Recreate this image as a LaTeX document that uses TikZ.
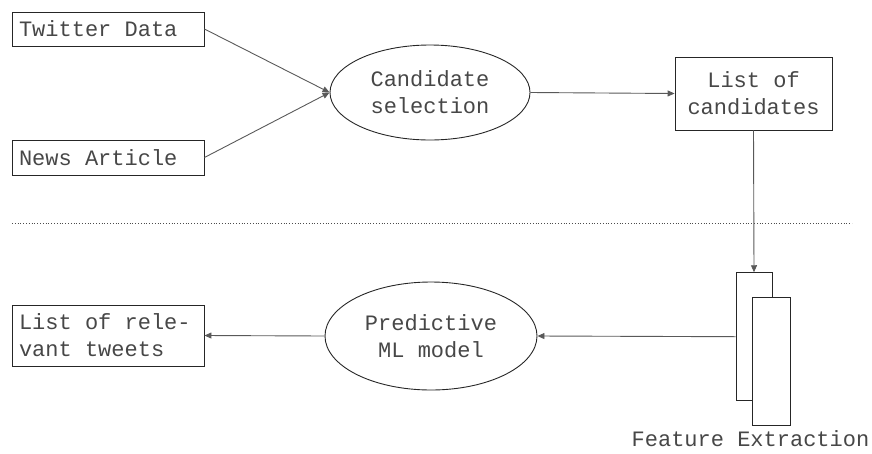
\documentclass[tikz,border=0pt]{standalone}
\usepackage{fontspec}
\setmonofont{Liberation Mono}
\usetikzlibrary{shapes.geometric,arrows.meta}
% keep full monospaced word spaces inside ragged text blocks
\newcommand\monospace{\spaceskip=0.6em\relax\xspaceskip=0.6em\relax}
\tikzset{
  lbl/.style={font=\ttfamily\fontsize{22}{27}\selectfont, text=black!72},
  box/.style={lbl, draw=black!85, line width=0.9pt, rectangle, inner sep=0pt},
  leftbox/.style={box, text width=178pt, align=left},
  oval/.style={lbl, draw=black!85, line width=0.9pt, ellipse, inner sep=0pt, align=center},
  flow/.style={draw=black!65, line width=0.9pt, -{Triangle[length=7pt,width=6pt]}},
}
\begin{document}
\begin{tikzpicture}[x=1pt,y=-1pt]
\useasboundingbox (0,0) rectangle (872,453);
% inputs
\node[leftbox, minimum width=192pt, minimum height=34pt] (tw) at (108,29) {\monospace Twitter Data};
\node[leftbox, minimum width=192pt, minimum height=35pt] (news) at (108,157.5) {\monospace News Article};
% candidate selection
\node[oval, minimum width=200pt, minimum height=95pt] (cs) at (430,92.5) {Candidate\\selection};
\node[box, minimum width=157pt, minimum height=73pt, align=center] (lc) at (753.5,93.5) {List of\\candidates};
% separator
\draw[black!70, line width=0.8pt, dotted] (12,223) coordinate (sepL) -- (852,223) coordinate (sepR);
% feature extraction stack
\node[draw=black!85, line width=0.9pt, fill=white, minimum width=36pt, minimum height=128pt, inner sep=0pt] (fe1) at (754,336.7) {};
\node[draw=black!85, line width=0.9pt, fill=white, minimum width=38pt, minimum height=128pt, inner sep=0pt] (fe2) at (771.7,361.9) {};
\node[lbl, anchor=base] (fel) at (750.5,446) {Feature Extraction};
% prediction
\node[oval, minimum width=212pt, minimum height=108pt] (ml) at (431,336) {Predictive\\ML model};
\node[leftbox, minimum width=192pt, minimum height=61pt] (rel) at (108,335.5) {\monospace List of rele-\\vant tweets};
% connectors
\draw[flow] (tw.east) -- (cs.west);
\draw[flow] (news.east) -- (cs.west);
\draw[flow] (cs.east) -- (lc.west);
\draw[flow] (lc.south) -- (fe1.north);
\draw[flow] (fe1.west) -- (ml.east);
\draw[flow] (ml.west) -- (rel.east);
\end{tikzpicture}
\end{document}
